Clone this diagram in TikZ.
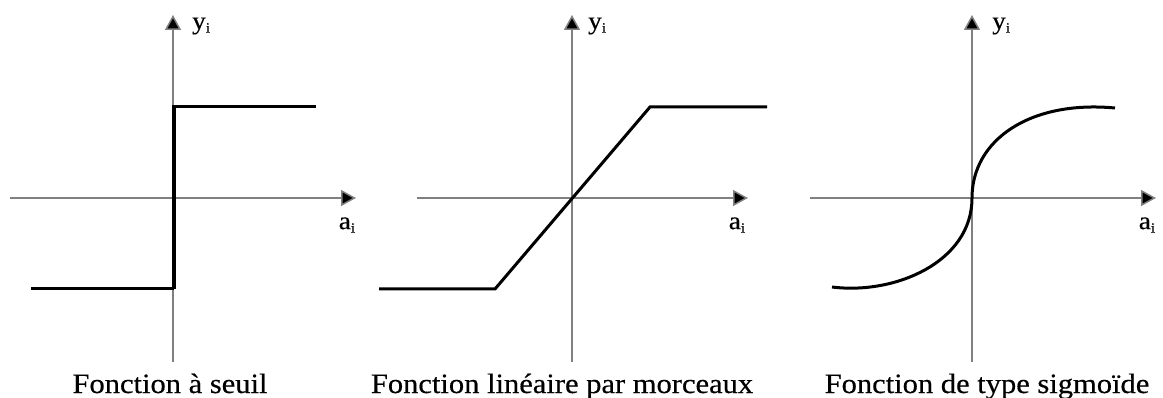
\documentclass[tikz,border=0pt]{standalone}
\usepackage{fontspec}
\setmainfont{Liberation Serif}[FakeStretch=1.09]
\newfontfamily\capfont{Liberation Serif}[FakeStretch=1.09,FakeBold=0.4]
\usetikzlibrary{arrows.meta}
\newcommand\subi{\raisebox{-0.3ex}{\fontsize{14}{14}\selectfont i}}
\tikzset{
  axis/.style={draw=black!50, line width=1.5pt, -{Triangle[length=15pt,width=16pt,fill=black]}},
  curve/.style={draw=black, line width=3pt, line join=miter},
  lab/.style={font=\capfont\fontsize{25}{25}\selectfont, inner sep=0pt},
  captext/.style={font=\capfont\fontsize{28}{28}\selectfont, inner sep=0pt, anchor=base}
}
\begin{document}
\begin{tikzpicture}[x=1pt,y=-1pt]
\useasboundingbox (0,0) rectangle (1163,398);
% ---------- panel 1
\coordinate (p1yb) at (173,362);
\coordinate (p1yt) at (173,15);
\coordinate (p1xl) at (10,198);
\coordinate (p1xr) at (356,198);
\draw[axis] (p1yb) -- (p1yt);
\draw[axis] (p1xl) -- (p1xr);
\coordinate (s1) at (31,289);
\coordinate (s2) at (174,289);
\coordinate (s3) at (174,107);
\coordinate (s4) at (316,107);
\draw[curve] (s1) -- (s2);
\draw[draw=black, line width=4.6pt] (s2) -- (s3);
\draw[curve] (172,107) -- (s4);
\node[lab, anchor=west] (y1) at (192,26) {y\subi};
\node[lab, anchor=center] (a1) at (347,225) {a\subi};
\node[captext] (c1) at (170,393) {Fonction à seuil};
% ---------- panel 2
\coordinate (p2yb) at (572,362);
\coordinate (p2yt) at (572,15);
\coordinate (p2xl) at (417,198);
\coordinate (p2xr) at (748,198);
\draw[axis] (p2yb) -- (p2yt);
\draw[axis] (p2xl) -- (p2xr);
\coordinate (l1) at (379,289);
\coordinate (l2) at (495,289);
\coordinate (l3) at (650,107);
\coordinate (l4) at (767,107);
\draw[curve] (l1) -- (l2) -- (l3) -- (l4);
\node[lab, anchor=west] (y2) at (588,26) {y\subi};
\node[lab, anchor=center] (a2) at (737,225) {a\subi};
\node[captext] (c2) at (562,393) {Fonction linéaire par morceaux};
% ---------- panel 3
\coordinate (p3yb) at (972,362);
\coordinate (p3yt) at (972,15);
\coordinate (p3xl) at (810,198);
\coordinate (p3xr) at (1156,198);
\draw[axis] (p3yb) -- (p3yt);
\draw[axis] (p3xl) -- (p3xr);
\coordinate (g1) at (832,287);
\coordinate (g0) at (972,198);
\coordinate (g2) at (1115,108);
\draw[curve] (g1) .. controls (895,295) and (972,262) .. (g0)
  .. controls (972,140) and (1030,100) .. (g2);
\node[lab, anchor=west] (y3) at (992,26) {y\subi};
\node[lab, anchor=center] (a3) at (1147,225) {a\subi};
\node[captext] (c3) at (987,393) {Fonction de type sigmoïde};
\end{tikzpicture}
\end{document}
